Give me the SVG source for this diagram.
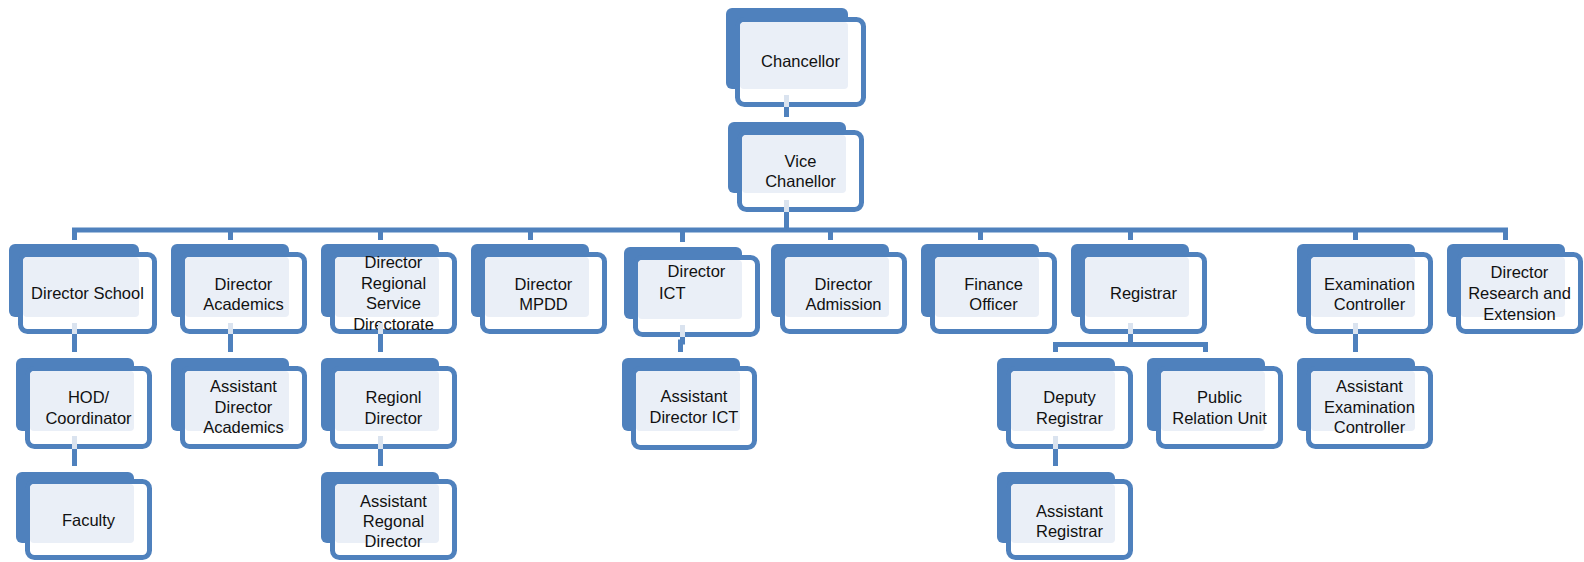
<svg xmlns="http://www.w3.org/2000/svg" width="1584" height="562" viewBox="0 0 1584 562">
<style>
.bk{fill:#4F81BD}
.fr{fill:#FFFFFF;stroke:#4F81BD;stroke-width:5}
.lt{fill:#EAEFF7}
.t{font-family:"Liberation Sans",Arial,sans-serif;font-size:16.5px;fill:#111;text-anchor:middle}
.ts{text-anchor:start}
.c{fill:none;stroke:#4F81BD;stroke-width:5}
.cl{fill:none;stroke:#DAE3EF;stroke-width:5}
</style>
<rect x="0" y="0" width="1584" height="562" fill="#FFFFFF"/>

<g id="n-chancellor">
<rect class="bk" x="726" y="8" width="122" height="81" rx="6"/>
<rect class="fr" x="737.5" y="19.5" width="126" height="85" rx="7"/>
<rect class="lt" x="740" y="22" width="108" height="67" rx="4"/>
<text class="t" x="800.5" y="67">Chancellor</text>
</g>

<g id="n-vice">
<rect class="bk" x="728" y="122" width="118" height="71" rx="6"/>
<rect class="fr" x="739.5" y="132.5" width="122" height="77" rx="7"/>
<rect class="lt" x="742" y="135" width="104" height="58" rx="4"/>
<text class="t" x="800.5" y="167">Vice</text>
<text class="t" x="800.5" y="187">Chanellor</text>
</g>

<g id="n-dir-school">
<rect class="bk" x="9" y="244" width="130" height="73" rx="6"/>
<rect class="fr" x="20.5" y="254.5" width="134" height="77" rx="7"/>
<rect class="lt" x="23" y="257" width="116" height="60" rx="4"/>
<text class="t" x="87.5" y="299">Director School</text>
</g>

<g id="n-dir-academics">
<rect class="bk" x="171" y="244" width="118" height="73" rx="6"/>
<rect class="fr" x="182.5" y="254.5" width="122" height="77" rx="7"/>
<rect class="lt" x="185" y="257" width="104" height="60" rx="4"/>
<text class="t" x="243.5" y="289.5">Director</text>
<text class="t" x="243.5" y="309.5">Academics</text>
</g>

<g id="n-dir-regional">
<rect class="bk" x="321" y="244" width="118" height="73" rx="6"/>
<rect class="fr" x="332.5" y="254.5" width="122" height="77" rx="7"/>
<rect class="lt" x="335" y="257" width="104" height="60" rx="4"/>
<text class="t" x="393.5" y="268">Director</text>
<text class="t" x="393.5" y="289">Regional</text>
<text class="t" x="393.5" y="309">Service</text>
<text class="t" x="393.5" y="330">Directorate</text>
</g>

<g id="n-dir-mpdd">
<rect class="bk" x="471" y="244" width="118" height="73" rx="6"/>
<rect class="fr" x="482.5" y="254.5" width="122" height="77" rx="7"/>
<rect class="lt" x="485" y="257" width="104" height="60" rx="4"/>
<text class="t" x="543.5" y="289.5">Director</text>
<text class="t" x="543.5" y="309.5">MPDD</text>
</g>

<g id="n-dir-ict">
<rect class="bk" x="624" y="247" width="118" height="72" rx="6"/>
<rect class="fr" x="635.5" y="257.5" width="122" height="77" rx="7"/>
<rect class="lt" x="638" y="260" width="104" height="59" rx="4"/>
<text class="t" x="696.5" y="277">Director</text>
<text class="t ts" x="659" y="299">ICT</text>
</g>

<g id="n-dir-admission">
<rect class="bk" x="771" y="244" width="118" height="73" rx="6"/>
<rect class="fr" x="782.5" y="254.5" width="122" height="77" rx="7"/>
<rect class="lt" x="785" y="257" width="104" height="60" rx="4"/>
<text class="t" x="843.5" y="289.5">Director</text>
<text class="t" x="843.5" y="309.5">Admission</text>
</g>

<g id="n-finance">
<rect class="bk" x="921" y="244" width="118" height="73" rx="6"/>
<rect class="fr" x="932.5" y="254.5" width="122" height="77" rx="7"/>
<rect class="lt" x="935" y="257" width="104" height="60" rx="4"/>
<text class="t" x="993.5" y="289.5">Finance</text>
<text class="t" x="993.5" y="309.5">Officer</text>
</g>

<g id="n-registrar">
<rect class="bk" x="1071" y="244" width="118" height="73" rx="6"/>
<rect class="fr" x="1082.5" y="254.5" width="122" height="77" rx="7"/>
<rect class="lt" x="1085" y="257" width="104" height="60" rx="4"/>
<text class="t" x="1143.5" y="299">Registrar</text>
</g>

<g id="n-exam">
<rect class="bk" x="1297" y="244" width="118" height="73" rx="6"/>
<rect class="fr" x="1308.5" y="254.5" width="122" height="77" rx="7"/>
<rect class="lt" x="1311" y="257" width="104" height="60" rx="4"/>
<text class="t" x="1369.5" y="289.5">Examination</text>
<text class="t" x="1369.5" y="309.5">Controller</text>
</g>

<g id="n-research">
<rect class="bk" x="1447" y="244" width="118" height="73" rx="6"/>
<rect class="fr" x="1458.5" y="254.5" width="122" height="77" rx="7"/>
<rect class="lt" x="1461" y="257" width="104" height="60" rx="4"/>
<text class="t" x="1519.5" y="278">Director</text>
<text class="t" x="1519.5" y="299">Research and</text>
<text class="t" x="1519.5" y="320">Extension</text>
</g>

<g id="n-hod">
<rect class="bk" x="16" y="358" width="118" height="73" rx="6"/>
<rect class="fr" x="27.5" y="368.5" width="122" height="78" rx="7"/>
<rect class="lt" x="30" y="371" width="104" height="60" rx="4"/>
<text class="t" x="88.5" y="403">HOD/</text>
<text class="t" x="88.5" y="424">Coordinator</text>
</g>

<g id="n-asst-dir-academics">
<rect class="bk" x="171" y="358" width="118" height="73" rx="6"/>
<rect class="fr" x="182.5" y="368.5" width="122" height="78" rx="7"/>
<rect class="lt" x="185" y="371" width="104" height="60" rx="4"/>
<text class="t" x="243.5" y="392">Assistant</text>
<text class="t" x="243.5" y="413">Director</text>
<text class="t" x="243.5" y="433">Academics</text>
</g>

<g id="n-regionl-director">
<rect class="bk" x="321" y="358" width="118" height="73" rx="6"/>
<rect class="fr" x="332.5" y="368.5" width="122" height="78" rx="7"/>
<rect class="lt" x="335" y="371" width="104" height="60" rx="4"/>
<text class="t" x="393.5" y="403">Regionl</text>
<text class="t" x="393.5" y="424">Director</text>
</g>

<g id="n-asst-dir-ict">
<rect class="bk" x="622" y="358" width="118" height="73" rx="6"/>
<rect class="fr" x="633.5" y="368.5" width="121" height="79" rx="7"/>
<rect class="lt" x="636" y="371" width="104" height="60" rx="4"/>
<text class="t" x="694" y="402">Assistant</text>
<text class="t" x="694" y="423">Director ICT</text>
</g>

<g id="n-deputy-registrar">
<rect class="bk" x="997" y="358" width="118" height="73" rx="6"/>
<rect class="fr" x="1008.5" y="368.5" width="122" height="78" rx="7"/>
<rect class="lt" x="1011" y="371" width="104" height="60" rx="4"/>
<text class="t" x="1069.5" y="403">Deputy</text>
<text class="t" x="1069.5" y="424">Registrar</text>
</g>

<g id="n-public-relation">
<rect class="bk" x="1147" y="358" width="118" height="73" rx="6"/>
<rect class="fr" x="1158.5" y="368.5" width="122" height="78" rx="7"/>
<rect class="lt" x="1161" y="371" width="104" height="60" rx="4"/>
<text class="t" x="1219.5" y="403">Public</text>
<text class="t" x="1219.5" y="424">Relation Unit</text>
</g>

<g id="n-asst-exam">
<rect class="bk" x="1297" y="358" width="118" height="73" rx="6"/>
<rect class="fr" x="1308.5" y="368.5" width="122" height="78" rx="7"/>
<rect class="lt" x="1311" y="371" width="104" height="60" rx="4"/>
<text class="t" x="1369.5" y="392">Assistant</text>
<text class="t" x="1369.5" y="413">Examination</text>
<text class="t" x="1369.5" y="433">Controller</text>
</g>

<g id="n-faculty">
<rect class="bk" x="16" y="472" width="118" height="71" rx="6"/>
<rect class="fr" x="27.5" y="481.5" width="122" height="76" rx="7"/>
<rect class="lt" x="30" y="484" width="104" height="59" rx="4"/>
<text class="t" x="88.5" y="526">Faculty</text>
</g>

<g id="n-asst-regonal">
<rect class="bk" x="321" y="472" width="118" height="71" rx="6"/>
<rect class="fr" x="332.5" y="481.5" width="122" height="76" rx="7"/>
<rect class="lt" x="335" y="484" width="104" height="59" rx="4"/>
<text class="t" x="393.5" y="507">Assistant</text>
<text class="t" x="393.5" y="527">Regonal</text>
<text class="t" x="393.5" y="547">Director</text>
</g>

<g id="n-asst-registrar">
<rect class="bk" x="997" y="472" width="118" height="71" rx="6"/>
<rect class="fr" x="1008.5" y="481.5" width="122" height="76" rx="7"/>
<rect class="lt" x="1011" y="484" width="104" height="59" rx="4"/>
<text class="t" x="1069.5" y="516.5">Assistant</text>
<text class="t" x="1069.5" y="537">Registrar</text>
</g>

<g id="connectors">
<path class="cl" d="M786.5 95V107 M786.5 200V212 M74.5 323V334 M230.5 323V334 M380.5 323V334 M682.5 325V337 M1130.5 323V334 M1355.5 323V334 M74.5 436V449 M380.5 436V449 M1055.5 436V449"/>
<path class="c" d="M786.5 107V117"/>
<path class="c" d="M786.5 212V230"/>
<path class="c" d="M74.5 240V230H1505.5V240"/>
<path class="c" d="M230.5 230V240 M380.5 230V240 M530.5 230V240 M682.5 230V242 M830.5 230V240 M980.5 230V240 M1130.5 230V240 M1355.5 230V240"/>
<path class="c" d="M74.5 334V352"/>
<path class="c" d="M230.5 334V352"/>
<path class="c" d="M380.5 334V352"/>
<path class="c" d="M682.5 337V342H680.5V352"/>
<path class="c" d="M1130.5 334V344.5"/>
<path class="c" d="M1055.5 352V344.5H1205.5V352"/>
<path class="c" d="M1355.5 334V352"/>
<path class="c" d="M74.5 449V466"/>
<path class="c" d="M380.5 449V466"/>
<path class="c" d="M1055.5 449V466"/>
</g>
</svg>
